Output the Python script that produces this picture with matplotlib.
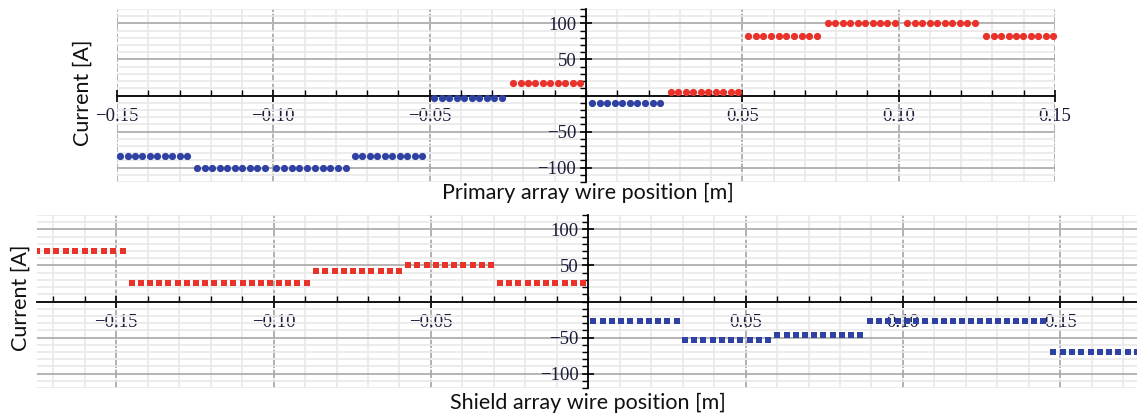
import numpy as np
import matplotlib
matplotlib.use("Agg")
import matplotlib.pyplot as plt
from matplotlib.ticker import MultipleLocator, FuncFormatter

# ---------------- data ----------------
wires_per_group = 10

primary_group_start = [-0.1490, -0.1244, -0.0991, -0.0739, -0.0486, -0.0233,
                       0.0019, 0.0272, 0.0518, 0.0774, 0.1027, 0.1280]
primary_group_end = [-0.1276, -0.1027, -0.0768, -0.0524, -0.0269, -0.0019,
                     0.0237, 0.0486, 0.0739, 0.0988, 0.1244, 0.1494]
primary_current = [-84, -100, -100, -84, -3, 18, -11, 5, 82, 100, 100, 82]

shield_group_start = [-0.1752, -0.1451, -0.1157, -0.0865, -0.0572, -0.0281,
                      0.0016, 0.0307, 0.0601, 0.0895, 0.1187, 0.1478]
shield_group_end = [-0.1480, -0.1188, -0.0895, -0.0601, -0.0309, -0.0016,
                    0.0281, 0.0572, 0.0864, 0.1160, 0.1446, 0.1744]
shield_current = [70, 26, 25, 42, 51, 25, -27, -54, -46, -27, -27, -70]

x_ticks = [-0.15, -0.10, -0.05, 0.05, 0.10, 0.15]
y_ticks = [-100, -50, 50, 100]

primary_xlabel = "Primary array wire position [m]"
shield_xlabel = "Shield array wire position [m]"
ylabel = "Current [A]"

RED = "#e8322a"
BLUE = "#2f42a3"
TICK_COLOR = "#1c1c3c"

W, H = 1137, 418
fig = plt.figure(figsize=(W / 100, H / 100), dpi=100)
fig.patch.set_facecolor("white")

label_font = ["Lato", "DejaVu Sans"]
tick_font = ["Liberation Serif", "DejaVu Serif"]


def setup_axes(ax, xlim):
    ax.set_xlim(*xlim)
    ax.set_ylim(-120, 120)
    for s in ("top", "right"):
        ax.spines[s].set_visible(False)
    ax.spines["left"].set_position(("data", 0))
    ax.spines["bottom"].set_position(("data", 0))
    for s in ("left", "bottom"):
        ax.spines[s].set_linewidth(1.3)
        ax.spines[s].set_color("black")
        ax.spines[s].set_zorder(3)
    ax.set_xticks(x_ticks)
    ax.set_yticks(y_ticks)
    ax.xaxis.set_minor_locator(MultipleLocator(0.01))
    ax.yaxis.set_minor_locator(MultipleLocator(10))
    ax.xaxis.set_major_formatter(
        FuncFormatter(lambda v, p: f"{v:.2f}".replace("-", "\u2212")))
    ax.yaxis.set_major_formatter(
        FuncFormatter(lambda v, p: f"{v:.0f}".replace("-", "\u2212")))
    ax.tick_params(axis="x", which="major", direction="inout", length=8,
                   width=1.2, pad=5, labelsize=13.5, labelcolor=TICK_COLOR)
    ax.tick_params(axis="x", which="minor", direction="in", length=4, width=1.0)
    ax.tick_params(axis="y", which="major", direction="inout", length=8,
                   width=1.2, pad=3, labelsize=13.5, labelcolor=TICK_COLOR)
    ax.tick_params(axis="y", which="minor", direction="out", length=4, width=1.0)
    for lab in ax.get_xticklabels() + ax.get_yticklabels():
        lab.set_fontfamily(tick_font)
    ax.set_axisbelow(True)
    ax.grid(which="minor", axis="both", color="#e9e9e9", linewidth=1.2)
    ax.grid(which="major", axis="y", color="#a8a8a8", linewidth=1.2)
    ax.grid(which="major", axis="x", color="#a4a4a4", linewidth=1.2,
            linestyle=(0, (5, 1)))
    ax.set_facecolor("white")


def draw_groups(ax, starts, ends, currents, marker, ms, clip):
    for s, e, c in zip(starts, ends, currents):
        xs = np.linspace(s, e, wires_per_group)
        ys = np.full(wires_per_group, c)
        col = RED if c > 0 else BLUE
        ax.plot(xs, ys, linestyle="none", marker=marker, markersize=ms,
                color=col, markeredgewidth=0, clip_on=clip, zorder=4)


# top panel
ax1 = fig.add_axes([117 / W, 1 - 182 / H, (1055 - 117) / W, (182 - 9) / H])
setup_axes(ax1, (-0.15, 0.15))
draw_groups(ax1, primary_group_start, primary_group_end, primary_current,
            "o", 5.2, False)

# bottom panel
ax2 = fig.add_axes([37 / W, 1 - 388 / H, (1137 - 37) / W, (388 - 215) / H])
setup_axes(ax2, (-0.1752, 0.1744))
draw_groups(ax2, shield_group_start, shield_group_end, shield_current,
            "s", 4.4, True)
for lab in ax2.get_xticklabels():
    lab.set_zorder(6)

# axis labels
LFS = 15.5
fig.text(83 / W, 1 - 93 / H, ylabel, rotation=90, ha="center", va="center",
         fontsize=LFS, family=label_font, color="#111111")
fig.text(588 / W, 1 - 193 / H, primary_xlabel, ha="center", va="center",
         fontsize=LFS, family=label_font, color="#111111")
fig.text(21 / W, 1 - 298 / H, ylabel, rotation=90, ha="center", va="center",
         fontsize=LFS, family=label_font, color="#111111")
fig.text(588 / W, 1 - 403 / H, shield_xlabel, ha="center", va="center",
         fontsize=LFS, family=label_font, color="#111111")

fig.savefig("out.png", dpi=100, facecolor="white")
